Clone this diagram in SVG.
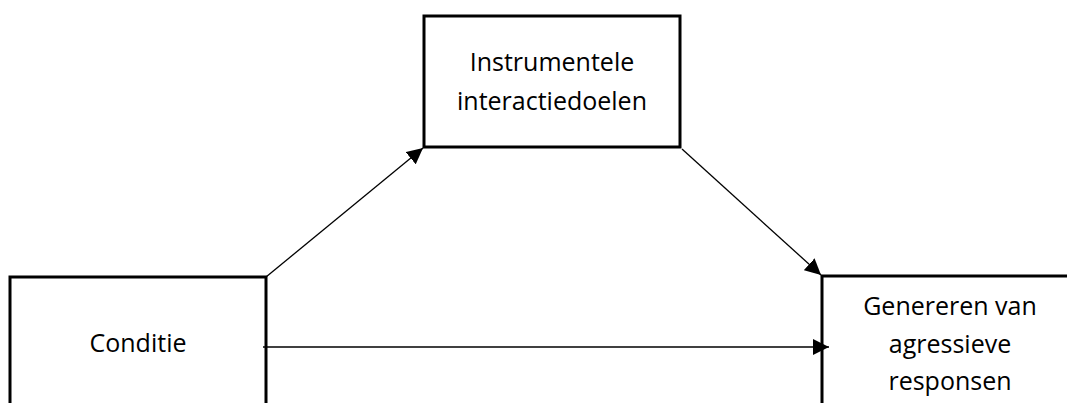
<svg xmlns="http://www.w3.org/2000/svg" width="1067" height="403" viewBox="0 0 1067 403">
<style>
.box{fill:#fff;stroke:#000;stroke-width:3}
.t{font-family:"Open Sans","Liberation Sans",sans-serif;font-size:25px;fill:#000;text-anchor:middle}
.c{stroke:#000;stroke-width:1.3;fill:none}
</style>
<defs>
<marker id="ah" viewBox="0 0 10 10" refX="10" refY="5" markerWidth="16" markerHeight="16" markerUnits="userSpaceOnUse" orient="auto">
<path d="M0,0 L10,5 L0,10 z" fill="#000"/>
</marker>
</defs>
<g id="node-instrumentele">
<rect class="box" x="424" y="16" width="256" height="131"/>
<text class="t" x="552" y="71">Instrumentele</text>
<text class="t" x="552" y="110">interactiedoelen</text>
</g>
<g id="node-conditie">
<rect class="box" x="10" y="277" width="256" height="140"/>
<text class="t" x="138" y="352">Conditie</text>
</g>
<g id="node-genereren">
<rect class="box" x="822" y="276" width="260" height="140"/>
<text class="t" x="950" y="315">Genereren van</text>
<text class="t" x="950" y="353">agressieve</text>
<text class="t" x="950" y="390">responsen</text>
</g>
<g id="connectors">
<line class="c" x1="266" y1="277" x2="423" y2="148" marker-end="url(#ah)"/>
<line class="c" x1="682" y1="149" x2="821" y2="275" marker-end="url(#ah)"/>
<line class="c" x1="263" y1="347" x2="829" y2="347" marker-end="url(#ah)"/>
</g>
</svg>
